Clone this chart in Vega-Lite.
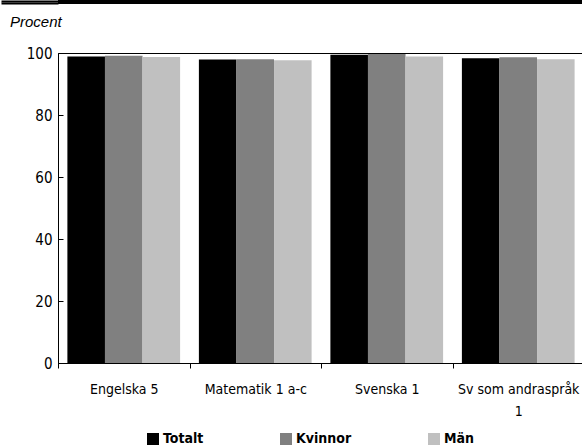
{
  "$schema": "https://vega.github.io/schema/vega-lite/v6.json",
  "padding": 0,
  "background": "white",
  "spacing": 9,
  "config": {
    "font": "DejaVu Sans Condensed, Liberation Sans, sans-serif",
    "view": {"stroke": null}
  },
  "vconcat": [
    {
      "width": 582,
      "height": 4,
      "data": {"values": [{"band": "top"}]},
      "mark": {"type": "rect", "color": "#000000"},
      "encoding": {
        "y": {
          "datum": 4,
          "type": "quantitative",
          "scale": {"domain": [0, 4], "nice": false},
          "axis": {
            "title": null,
            "labels": false,
            "domain": false,
            "grid": false,
            "values": [1, 3],
            "tickSize": 57,
            "tickWidth": 2,
            "tickColor": "#000000"
          }
        },
        "y2": {"datum": 0}
      },
      "view": {"fill": "#000000", "stroke": null}
    },
    {
      "width": 526,
      "height": 310,
      "view": {"stroke": "#000000", "strokeWidth": 1},
      "data": {
        "values": [
          {"subject": "Engelska 5", "series": "Totalt", "value": 98.9},
          {"subject": "Engelska 5", "series": "Kvinnor", "value": 99.1},
          {"subject": "Engelska 5", "series": "Män", "value": 98.7},
          {"subject": "Matematik 1 a-c", "series": "Totalt", "value": 97.9},
          {"subject": "Matematik 1 a-c", "series": "Kvinnor", "value": 98.0},
          {"subject": "Matematik 1 a-c", "series": "Män", "value": 97.7},
          {"subject": "Svenska 1", "series": "Totalt", "value": 99.4},
          {"subject": "Svenska 1", "series": "Kvinnor", "value": 99.7},
          {"subject": "Svenska 1", "series": "Män", "value": 98.9},
          {"subject": "Sv som andraspråk 1", "series": "Totalt", "value": 98.3},
          {"subject": "Sv som andraspråk 1", "series": "Kvinnor", "value": 98.6},
          {"subject": "Sv som andraspråk 1", "series": "Män", "value": 98.0}
        ]
      },
      "mark": {"type": "bar"},
      "encoding": {
        "x": {
          "field": "subject",
          "type": "nominal",
          "sort": null,
          "scale": {"paddingInner": 0, "paddingOuter": 0},
          "axis": {
            "title": null,
            "labelAngle": 0,
            "tickBand": "extent",
            "tickSize": 5,
            "tickColor": "#000000",
            "domainColor": "#000000",
            "labelColor": "#000000",
            "labelFont": "DejaVu Sans Condensed, Liberation Sans, sans-serif",
            "labelFontSize": 14,
            "labelPadding": 14,
            "labelLimit": 200,
            "labelLineHeight": 22,
            "labelExpr": "datum.value == 'Sv som andraspråk 1' ? ['Sv som andraspråk', '1'] : datum.value"
          }
        },
        "xOffset": {
          "field": "series",
          "type": "nominal",
          "sort": ["Totalt", "Kvinnor", "Män"],
          "scale": {"paddingInner": 0, "paddingOuter": 0.25}
        },
        "y": {
          "field": "value",
          "type": "quantitative",
          "scale": {"domain": [0, 100], "nice": false},
          "axis": {
            "title": "Procent",
            "titleAngle": 0,
            "titleX": -48.5,
            "titleY": -27,
            "titleAlign": "left",
            "titleBaseline": "alphabetic",
            "titleFont": "Liberation Sans",
            "titleFontStyle": "italic",
            "titleFontWeight": "normal",
            "titleFontSize": 15,
            "titleColor": "#000000",
            "values": [0, 20, 40, 60, 80, 100],
            "grid": false,
            "tickSize": -5,
            "tickColor": "#000000",
            "domainColor": "#000000",
            "labelColor": "#000000",
            "labelFont": "DejaVu Sans Condensed, Liberation Sans, sans-serif",
            "labelFontSize": 15,
            "labelPadding": 11
          }
        },
        "color": {
          "field": "series",
          "type": "nominal",
          "sort": ["Totalt", "Kvinnor", "Män"],
          "scale": {"domain": ["Totalt", "Kvinnor", "Män"], "range": ["#000000", "#808080", "#c0c0c0"]},
          "legend": {
            "title": null,
            "orient": "none",
            "legendX": 88,
            "legendY": 432,
            "direction": "horizontal",
            "columns": 3,
            "columnPadding": 75,
            "symbolType": "square",
            "symbolSize": 144,
            "symbolStrokeWidth": 0,
            "labelOffset": 3,
            "labelFont": "DejaVu Sans Condensed, Liberation Sans, sans-serif",
            "labelFontWeight": "bold",
            "labelFontSize": 14,
            "labelColor": "#000000"
          }
        }
      }
    }
  ]
}
